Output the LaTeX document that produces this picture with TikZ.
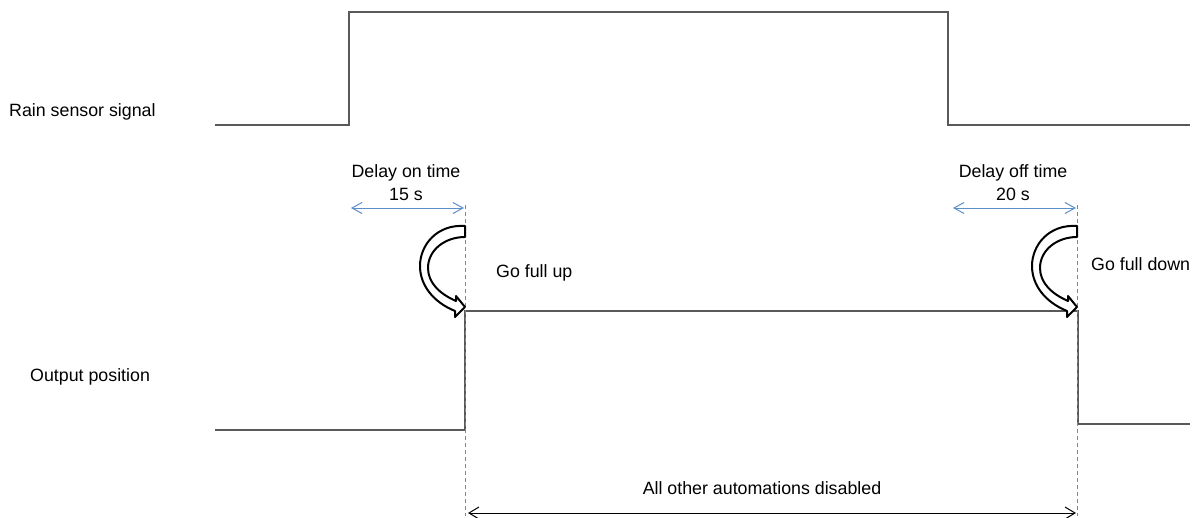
\documentclass[tikz,border=0pt]{standalone}
\usepackage{fontspec}
\setmainfont{Liberation Sans}
\usetikzlibrary{arrows.meta}
\definecolor{sig}{HTML}{595959}
\definecolor{dimblue}{HTML}{5B8FC9}
\begin{document}
\begin{tikzpicture}[x=1pt,y=-1pt,
 lbl/.style={inner sep=0pt,font=\fontsize{17.8}{21}\selectfont},
 sigline/.style={draw=sig,line width=1.5pt,line join=miter},
 guide/.style={draw=dimblue,line width=1pt,dash pattern=on 4pt off 3pt},
 dimarrow/.style={draw=dimblue,line width=1pt,{Straight Barb[length=10pt,width=11pt]}-{Straight Barb[length=10pt,width=11pt]}},
 spanarrow/.style={draw=black,line width=1pt,{Straight Barb[length=10pt,width=12pt]}-{Straight Barb[length=10pt,width=12pt]}},
 bendarrow/.style={draw=black,line width=2pt,fill=white,line join=round}]
\useasboundingbox (0,0) rectangle (1197,517);

% rain sensor signal
\coordinate (r0) at (215,125);
\coordinate (r1) at (349,125);
\coordinate (r2) at (349,12);
\coordinate (r3) at (948,12);
\coordinate (r4) at (948,125);
\coordinate (r5) at (1190,125);
\draw[sigline] (r0) -- (r1) -- (r2) -- (r3) -- (r4) -- (r5);

% output position
\coordinate (o0) at (215,430);
\coordinate (o1) at (465,430);
\coordinate (o2) at (465,311);
\coordinate (o3) at (1078,311);
\coordinate (o4) at (1078,424);
\coordinate (o5) at (1190,424);
\draw[sigline] (o0) -- (o1) -- (o2) -- (o3) -- (o4) -- (o5);

% guides
\coordinate (g1t) at (465,205);
\coordinate (g1b) at (465,516);
\coordinate (g2t) at (1077,205);
\coordinate (g2b) at (1077,516);
\draw[guide] (g1t) -- (g1b);
\draw[guide] (g2t) -- (g2b);

% dimension arrows
\coordinate (d1a) at (351,208);
\coordinate (d1b) at (464,208);
\coordinate (d2a) at (953,208);
\coordinate (d2b) at (1076,208);
\draw[dimarrow] (d1a) -- (d1b);
\draw[dimarrow] (d2a) -- (d2b);

\coordinate (s1) at (468,513);
\coordinate (s2) at (1076,513);
\draw[spanarrow] (s1) -- (s2);

% labels
\node[lbl,anchor=west] (rain) at (9,112) {Rain sensor signal};
\node[lbl,anchor=west] (out) at (30,377) {Output position};
\node[lbl] (don) at (406,173) {Delay on time};
\node[lbl] (don2) at (406,194) {15 s};
\node[lbl] (doff) at (1013,173) {Delay off time};
\node[lbl] (doff2) at (1013,194) {20 s};
\node[lbl,anchor=west] (up) at (496,273) {Go full up};
\node[lbl,anchor=west] (down) at (1091,264) {Go full down};
\node[lbl] (all) at (762,488) {All other automations disabled};

% curved block arrows
\foreach \dx in {0,612}{
\draw[bendarrow,xshift=\dx pt]
 (465,226) .. controls (437,224) and (420,245) .. (420,266)
 .. controls (420,285) and (433,302) .. (455,311)
 -- (455,317) -- (465,307) -- (456,296) -- (456,301)
 .. controls (440,294) and (428,283) .. (428,268)
 .. controls (428,250) and (445,237) .. (465,237) -- cycle;
}
\end{tikzpicture}
\end{document}
